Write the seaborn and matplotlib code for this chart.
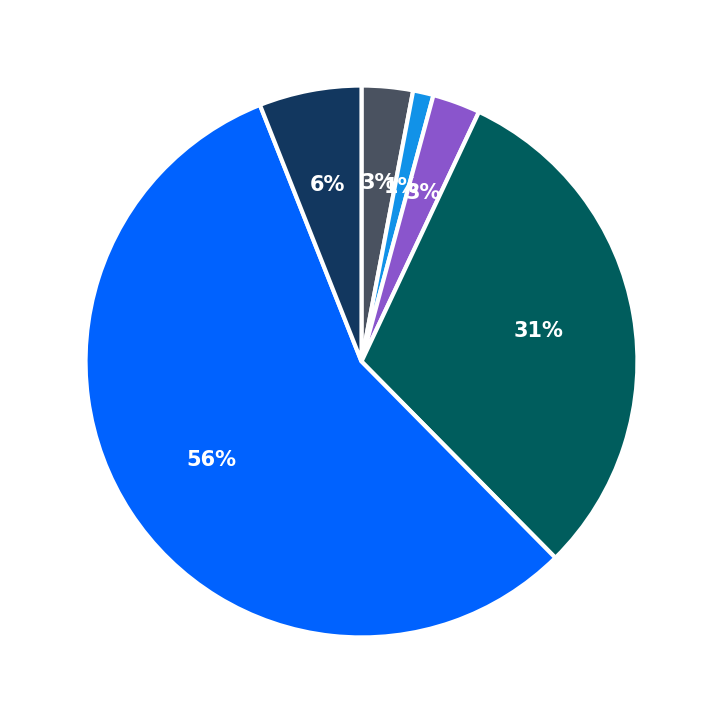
import matplotlib
matplotlib.use("Agg")
import matplotlib.pyplot as plt
import seaborn as sns

sns.set_theme(style="white")
plt.rcParams['font.family'] = ['DejaVu Sans']

labels = ["A", "B", "C", "D", "E", "F"]
values = [3.0, 1.2, 2.8, 30.6, 56.4, 6.0]
colors = ["#4a5260", "#1192e8", "#8a55cc", "#005d5d", "#0062ff", "#12375f"]

fig = plt.figure(figsize=(7.23, 7.23), dpi=100)
ax = fig.add_axes([0, 0, 1, 1])
wedges, texts, autotexts = ax.pie(
    values, colors=colors, startangle=90, counterclock=False,
    autopct="%.0f%%", pctdistance=0.65,
    wedgeprops=dict(edgecolor="white", linewidth=3),
    textprops=dict(color="white", fontsize=15, fontweight="bold"))
ax.set_xlim(-1.31, 1.31)
ax.set_ylim(-1.31, 1.31)
ax.set_aspect("equal")
ax.axis("off")
fig.savefig("out.png", dpi=100, facecolor="white")
